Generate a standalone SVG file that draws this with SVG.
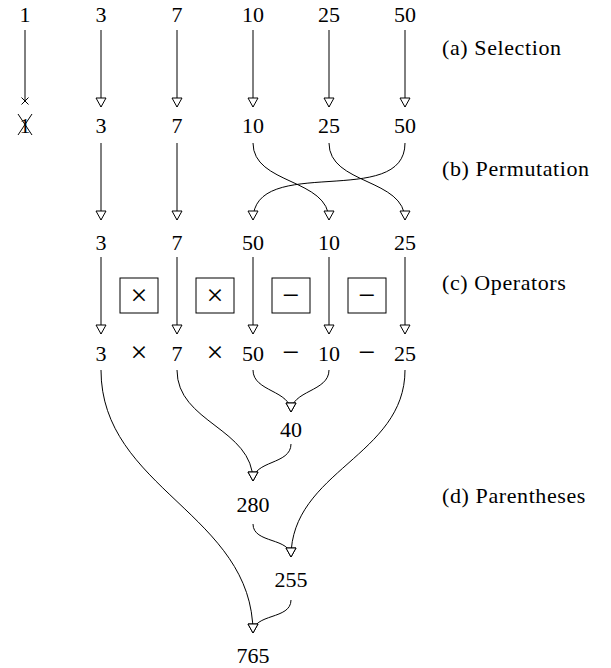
<svg xmlns="http://www.w3.org/2000/svg" width="611" height="668" viewBox="0 0 611 668" font-family="'Liberation Serif', 'DejaVu Serif', serif">
<style>
  text { font-family: 'Liberation Serif', 'DejaVu Serif', serif; font-size: 22px; fill: #000; }
  .n { text-anchor: middle; }
  .op { font-size: 30px; }
  .lbl { font-size: 22px; letter-spacing: 0.6px; }
  .e { fill: none; stroke: #000; stroke-width: 1; marker-end: url(#ah); }
  .x { fill: none; stroke: #000; stroke-width: 1; }
  .box { fill: #fff; stroke: #000; stroke-width: 1; }
</style>
<defs>
  <marker id="ah" markerUnits="userSpaceOnUse" markerWidth="14" markerHeight="14" viewBox="-2 -7 14 14" refX="9" refY="0" orient="auto">
    <path d="M0,-5 L9,0 L0,5 z" fill="#fff" stroke="#000" stroke-width="1"/>
  </marker>
</defs>
<rect width="611" height="668" fill="#fff"/>

<g id="row1">
  <text class="n" x="25" y="22">1</text>
  <text class="n" x="101" y="22">3</text>
  <text class="n" x="177" y="22">7</text>
  <text class="n" x="253" y="22">10</text>
  <text class="n" x="329" y="22">25</text>
  <text class="n" x="405" y="22">50</text>
</g>
<g id="row2">
  <text class="n" x="25" y="133">1</text>
  <path class="x" d="M18,114 L32,135 M32,114 L18,135"/>
  <text class="n" x="101" y="133">3</text>
  <text class="n" x="177" y="133">7</text>
  <text class="n" x="253" y="133">10</text>
  <text class="n" x="329" y="133">25</text>
  <text class="n" x="405" y="133">50</text>
</g>
<g id="row3">
  <text class="n" x="101" y="250">3</text>
  <text class="n" x="177" y="250">7</text>
  <text class="n" x="253" y="250">50</text>
  <text class="n" x="329" y="250">10</text>
  <text class="n" x="405" y="250">25</text>
</g>
<g id="ops">
  <g id="op1"><rect class="box" x="120" y="278" width="38" height="35"/><text class="n op" x="139" y="305">×</text></g>
  <g id="op2"><rect class="box" x="196" y="278" width="38" height="35"/><text class="n op" x="215" y="305">×</text></g>
  <g id="op3"><rect class="box" x="272" y="278" width="38" height="35"/><text class="n op" x="291" y="305">−</text></g>
  <g id="op4"><rect class="box" x="348" y="278" width="38" height="35"/><text class="n op" x="367" y="305">−</text></g>
</g>
<g id="row4">
  <text class="n" x="101" y="361">3</text>
  <text class="n op" x="139" y="362">×</text>
  <text class="n" x="177" y="361">7</text>
  <text class="n op" x="215" y="362">×</text>
  <text class="n" x="253" y="361">50</text>
  <text class="n op" x="291" y="362">−</text>
  <text class="n" x="329" y="361">10</text>
  <text class="n op" x="367" y="362">−</text>
  <text class="n" x="405" y="361">25</text>
</g>
<g id="n40"><text class="n" x="291" y="437">40</text></g>
<g id="n280"><text class="n" x="253" y="512">280</text></g>
<g id="n255"><text class="n" x="291" y="587">255</text></g>
<g id="n765"><text class="n" x="253" y="663">765</text></g>

<g id="labels">
  <text class="lbl" x="442" y="55">(a) Selection</text>
  <text class="lbl" x="442" y="176">(b) Permutation</text>
  <text class="lbl" x="442" y="290">(c) Operators</text>
  <text class="lbl" x="442" y="503">(d) Parentheses</text>
</g>

<g id="connectors">
  <path class="x" d="M25,30 L25,101 M21.5,97.5 L28.5,104.5 M28.5,97.5 L21.5,104.5"/>
  <path class="e" d="M101,30 L101,107"/>
  <path class="e" d="M177,30 L177,107"/>
  <path class="e" d="M253,30 L253,107"/>
  <path class="e" d="M329,30 L329,107"/>
  <path class="e" d="M405,30 L405,107"/>
  <path class="e" d="M101,143 L101,220"/>
  <path class="e" d="M177,143 L177,220"/>
  <path class="e" d="M253,143 C253,185 329,178 329,220"/>
  <path class="e" d="M329,143 C329,185 405,178 405,220"/>
  <path class="e" d="M405,143 C405,210 253,153 253,220"/>
  <path class="e" d="M101,257 L101,334"/>
  <path class="e" d="M177,257 L177,334"/>
  <path class="e" d="M253,257 L253,334"/>
  <path class="e" d="M329,257 L329,334"/>
  <path class="e" d="M405,257 L405,334"/>
  <path class="e" d="M253,370 C253,392 291,390 291,412"/>
  <path class="e" d="M329,370 C329,392 291,390 291,412"/>
  <path class="e" d="M177,370 C177,423 253,428 253,481"/>
  <path class="e" d="M291,444 C291,465 253,460 253,481"/>
  <path class="e" d="M405,370 C405,456 291,471 291,557"/>
  <path class="e" d="M253,524 C253,544 291,537 291,557"/>
  <path class="e" d="M101,370 C101,489 253,514 253,633"/>
  <path class="e" d="M291,600 C291,620 253,613 253,633"/>
</g>
</svg>
